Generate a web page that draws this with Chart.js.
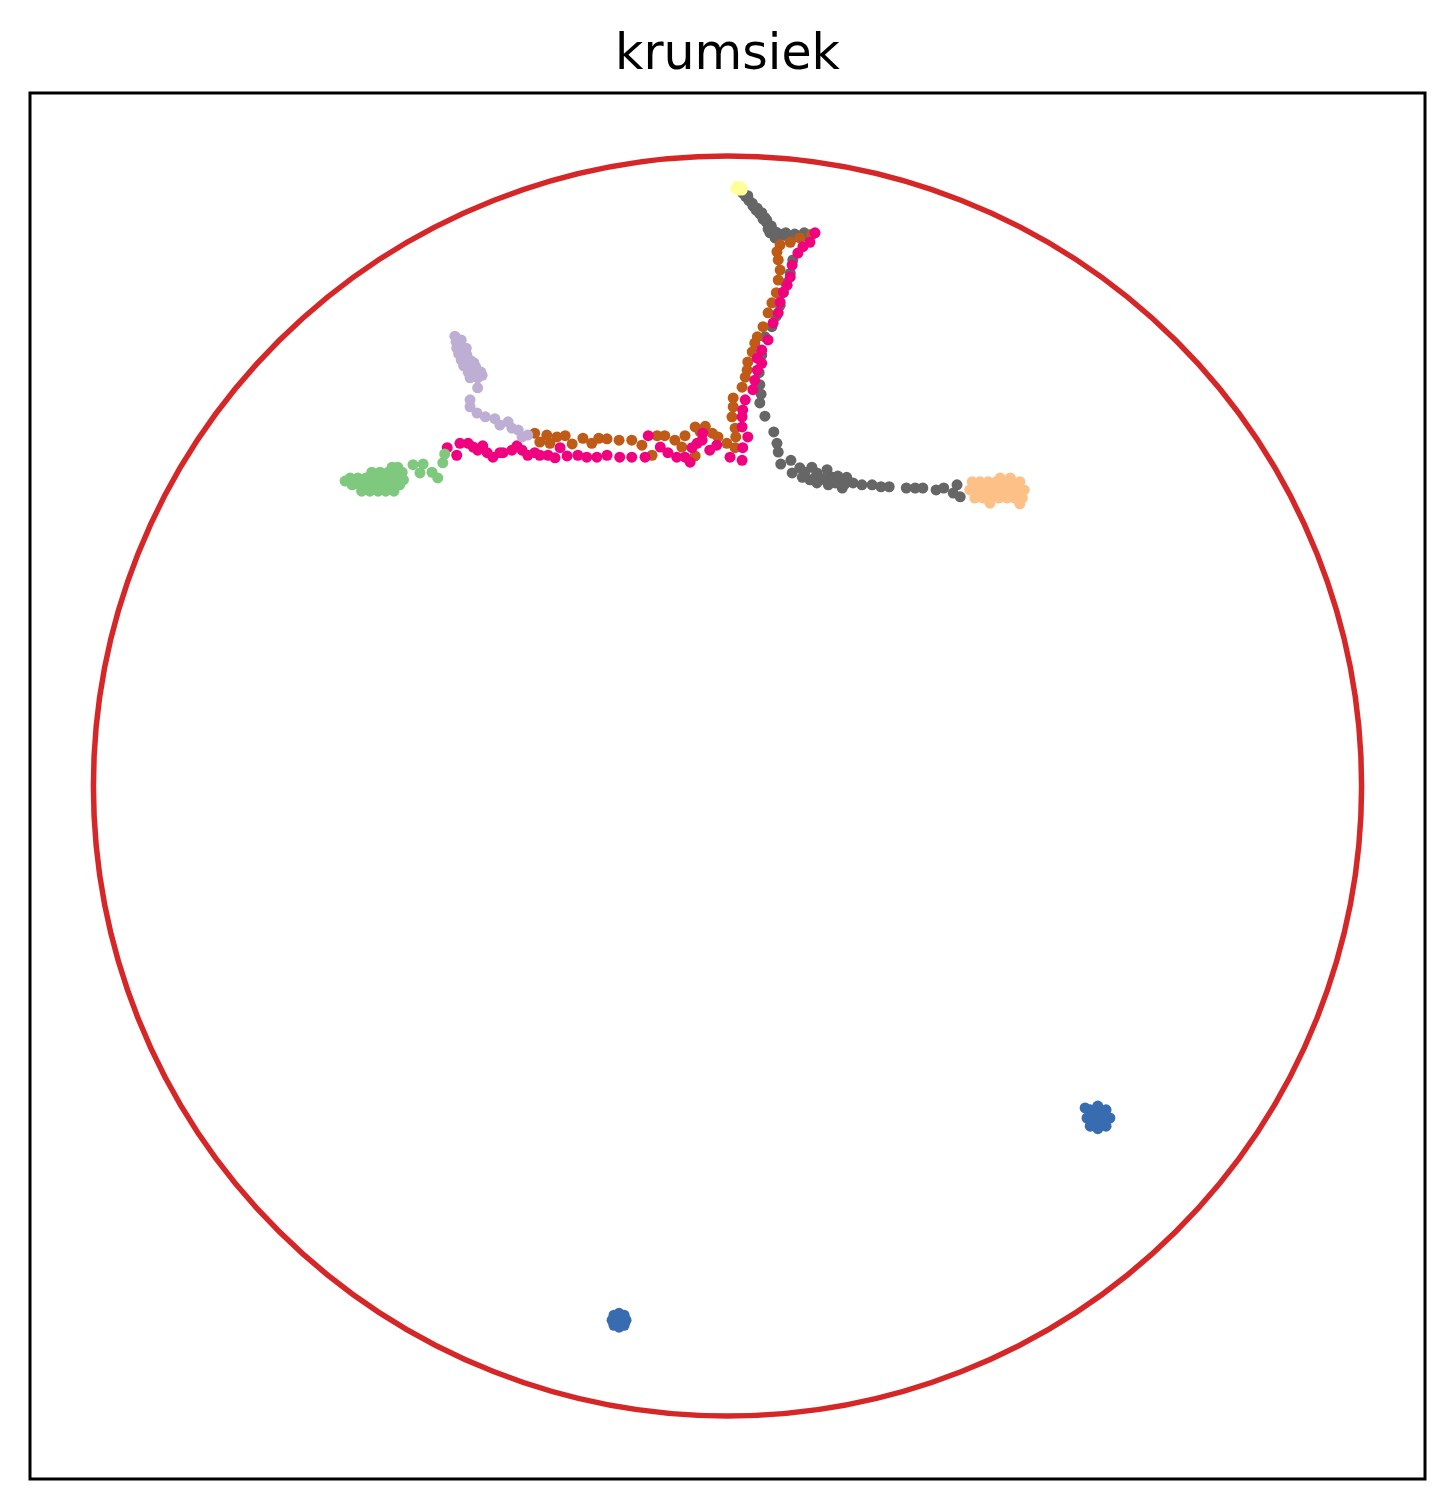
<!DOCTYPE html>
<html>
<head>
<meta charset="utf-8">
<script src="https://cdn.jsdelivr.net/npm/chart.js@4"></script>
<style>
  body { margin: 0; background: #fff; }
  canvas { display: block; }
</style>
</head>
<body>
<canvas id="diskChart" width="1455" height="1509"></canvas>
<script>
// poincare disk embedding, one array per cluster label
const titleText = "krumsiek";
const axisMin = -1.1;
const axisMax = 1.1;
const diskRadius = 1;

const grayPts = [
    [0.024,0.941],[0.029,0.935],[0.034,0.929],[0.040,0.921],[0.045,0.914],[0.051,0.908],[0.056,0.900],[0.061,0.895],
    [0.065,0.889],[0.070,0.883],[0.073,0.876],[0.080,0.873],[0.088,0.876],[0.094,0.873],[0.102,0.871],[0.110,0.873],
    [0.118,0.873],[0.124,0.875],[0.130,0.875],[0.067,0.878],[0.075,0.870],[0.081,0.870],[0.059,0.902],[0.050,0.911],
    [0.064,0.884],
    [0.032,0.937],[0.039,0.925],[0.047,0.917],[0.054,0.910],[0.062,0.898],[0.069,0.889],[0.077,0.879],[0.092,0.878],
    [0.106,0.876],[0.121,0.878],
    [0.103,0.835],[0.099,0.814],[0.092,0.798],[0.088,0.783],[0.083,0.763],[0.077,0.746],[0.070,0.729],[0.059,0.713],
    [0.054,0.684],[0.050,0.656],[0.051,0.637],[0.053,0.622],[0.051,0.608],[0.059,0.587],[0.073,0.562],[0.078,0.544],
    [0.080,0.530],[0.084,0.511],
    [0.100,0.517],[0.114,0.505],[0.102,0.497],[0.118,0.490],[0.133,0.506],[0.130,0.486],[0.141,0.497],[0.141,0.481],
    [0.157,0.502],[0.159,0.478],[0.166,0.490],[0.177,0.486],[0.181,0.473],[0.188,0.490],[0.198,0.481],[0.212,0.478],
    [0.228,0.478],[0.242,0.475],[0.255,0.475],[0.282,0.473],[0.296,0.473],[0.308,0.473],[0.329,0.470],[0.341,0.473],
    [0.362,0.478],[0.367,0.459],[0.356,0.465],[0.146,0.489],[0.154,0.486],[0.170,0.481],[0.138,0.489],[0.122,0.498],
    [0.174,0.492],[0.185,0.479],[0.162,0.486]
];
const brownPts = [
    [0.133,0.875],[0.114,0.870],[0.099,0.863],[0.083,0.859],[0.078,0.848],[0.080,0.835],[0.083,0.819],[0.080,0.803],
    [0.077,0.783],[0.070,0.767],[0.064,0.751],[0.056,0.729],[0.047,0.713],[0.043,0.703],[0.039,0.689],[0.032,0.673],
    [0.031,0.660],[0.028,0.649],[0.023,0.633],[0.009,0.616],[0.009,0.602],[0.007,0.586],[0.012,0.568],[0.013,0.554],
    [-0.001,0.544],[0.012,0.537],
    [-0.304,0.560],[-0.296,0.546],[-0.285,0.557],[-0.280,0.544],[-0.269,0.554],[-0.256,0.556],[-0.245,0.543],[-0.228,0.552],
    [-0.214,0.544],[-0.203,0.552],[-0.190,0.551],[-0.171,0.549],[-0.151,0.549],[-0.135,0.541],[-0.111,0.556],[-0.099,0.556],
    [-0.083,0.549],[-0.072,0.538],[-0.067,0.556],[-0.051,0.570],[-0.035,0.571],[-0.043,0.562],[-0.024,0.560],[-0.015,0.554],
    [-0.119,0.525],[-0.051,0.524]
];
const pinkPts = [
    [0.138,0.878],[0.130,0.863],[0.119,0.856],[0.111,0.846],[0.102,0.827],[0.099,0.808],[0.094,0.795],[0.088,0.784],
    [0.083,0.768],[0.080,0.751],[0.072,0.735],[0.064,0.708],[0.054,0.692],[0.047,0.679],[0.054,0.671],[0.047,0.660],
    [0.043,0.644],[0.040,0.629],[0.028,0.613],[0.024,0.597],[0.023,0.586],[0.023,0.570],[0.032,0.554],[0.024,0.537],
    [0.004,0.522],[0.023,0.517],
    [-0.442,0.537],[-0.427,0.525],[-0.422,0.544],[-0.409,0.544],[-0.401,0.538],[-0.394,0.533],[-0.386,0.540],[-0.379,0.529],
    [-0.370,0.522],[-0.359,0.529],[-0.354,0.529],[-0.340,0.533],[-0.332,0.540],[-0.324,0.533],[-0.315,0.525],[-0.304,0.529],
    [-0.296,0.525],[-0.283,0.525],[-0.272,0.521],[-0.264,0.537],[-0.253,0.524],[-0.236,0.525],[-0.222,0.522],[-0.206,0.522],
    [-0.190,0.525],[-0.170,0.522],[-0.151,0.522],[-0.130,0.522],[-0.125,0.556],[-0.106,0.538],[-0.094,0.529],[-0.080,0.522],
    [-0.067,0.522],[-0.059,0.514],[-0.056,0.537],[-0.048,0.544],[-0.040,0.549],[-0.039,0.560],[-0.028,0.533],[-0.017,0.541]
];
const greenPts = [
    [-0.603,0.484],
    [-0.595,0.489],[-0.583,0.489],[-0.570,0.489],[-0.558,0.489],[-0.545,0.489],[-0.532,0.489],[-0.520,0.489],
    [-0.592,0.478],[-0.580,0.478],[-0.567,0.478],[-0.554,0.478],[-0.542,0.478],[-0.529,0.478],[-0.517,0.478],
    [-0.577,0.468],[-0.564,0.468],[-0.551,0.468],[-0.539,0.468],[-0.526,0.468],
    [-0.561,0.498],[-0.548,0.498],[-0.535,0.498],[-0.523,0.498],[-0.513,0.498],
    [-0.529,0.506],[-0.520,0.506],
    [-0.586,0.483],[-0.561,0.484],[-0.536,0.484],[-0.511,0.486],
    [-0.496,0.510],[-0.480,0.511],[-0.485,0.497],[-0.466,0.498],[-0.457,0.489],[-0.449,0.513],[-0.446,0.527]
];
const purplePts = [
    [-0.430,0.714],[-0.428,0.705],[-0.427,0.695],[-0.424,0.686],[-0.420,0.676],[-0.416,0.667],[-0.409,0.657],
    [-0.420,0.708],[-0.419,0.698],[-0.416,0.689],[-0.412,0.679],[-0.408,0.670],[-0.401,0.660],[-0.394,0.654],
    [-0.411,0.684],[-0.405,0.675],[-0.397,0.665],[-0.389,0.657],[-0.406,0.648],[-0.398,0.651],
    [-0.387,0.652],[-0.394,0.648],[-0.400,0.672],[-0.412,0.695],
    [-0.394,0.632],[-0.406,0.613],[-0.406,0.602],[-0.395,0.592],[-0.382,0.586],[-0.367,0.583],[-0.359,0.573],[-0.346,0.578],
    [-0.340,0.568],[-0.330,0.565],[-0.324,0.554],[-0.315,0.557]
];
const orangePts = [
    [0.386,0.483],[0.398,0.483],[0.411,0.483],[0.424,0.483],[0.436,0.483],[0.449,0.483],[0.461,0.483],
    [0.382,0.470],[0.395,0.470],[0.408,0.470],[0.420,0.470],[0.433,0.470],[0.446,0.470],[0.458,0.470],[0.468,0.470],
    [0.390,0.457],[0.403,0.457],[0.416,0.457],[0.428,0.457],[0.441,0.457],[0.453,0.457],[0.465,0.457],
    [0.461,0.448],[0.430,0.489],[0.446,0.489],[0.414,0.449],
    [0.392,0.476],[0.418,0.465],[0.452,0.477],[0.436,0.462]
];
const yellowPts = [
    [0.015,0.952],[0.021,0.951],[0.018,0.946],[0.023,0.946],[0.013,0.948]
];
const bluePts = [
    [0.572,-0.514],[0.584,-0.508],[0.597,-0.514],[0.603,-0.527],[0.597,-0.540],[0.584,-0.544],[0.572,-0.540],[0.567,-0.527],
    [0.564,-0.511],
    [0.584,-0.527],[0.592,-0.527],[0.576,-0.527],[0.584,-0.519],[0.584,-0.535],[0.590,-0.521],[0.578,-0.533],
    [0.590,-0.533],[0.578,-0.521],
    [-0.171,-0.837],[-0.160,-0.848],[-0.171,-0.859],[-0.182,-0.848],[-0.163,-0.840],[-0.179,-0.840],[-0.163,-0.856],
    [-0.179,-0.856],[-0.171,-0.848],[-0.166,-0.844],[-0.176,-0.852]
];

const toXY = pts => pts.map(p => ({ x: p[0], y: p[1] }));

function cluster(pts, color, order) {
    return {
        data: toXY(pts),
        backgroundColor: color,
        borderWidth: 0,
        pointRadius: 5.5,
        pointHoverRadius: 5.5,
        order: order
    };
}

// unit circle of the disk and the axes frame
const diskPlugin = {
    id: "disk",
    beforeDatasetsDraw(chart) {
        const { ctx, scales } = chart;
        const cx = scales.x.getPixelForValue(0);
        const cy = scales.y.getPixelForValue(0);
        const rx = scales.x.getPixelForValue(diskRadius) - cx;
        const ry = cy - scales.y.getPixelForValue(diskRadius);
        ctx.save();
        ctx.strokeStyle = "#d62728";
        ctx.lineWidth = 5.5;
        ctx.beginPath();
        ctx.ellipse(cx, cy, rx, ry, 0, 0, Math.PI * 2);
        ctx.stroke();
        ctx.restore();
    },
    afterDraw(chart) {
        const { ctx, chartArea } = chart;
        ctx.save();
        ctx.strokeStyle = "#000";
        ctx.lineWidth = 3;
        ctx.strokeRect(chartArea.left, chartArea.top,
            chartArea.right - chartArea.left, chartArea.bottom - chartArea.top);
        ctx.restore();
    }
};

new Chart(document.getElementById("diskChart"), {
    type: "scatter",
    data: {
        datasets: [
            cluster(grayPts, "#666666", 8),
            cluster(brownPts, "#bf5b17", 7),
            cluster(pinkPts, "#f0027f", 6),
            cluster(greenPts, "#7fc97f", 5),
            cluster(purplePts, "#beaed4", 4),
            cluster(orangePts, "#fdc086", 3),
            cluster(yellowPts, "#ffff99", 2),
            cluster(bluePts, "#386cb0", 1)
        ]
    },
    options: {
        responsive: false,
        animation: false,
        layout: { padding: { left: 30, right: 30, top: 0, bottom: 30 } },
        scales: {
            x: { type: "linear", min: axisMin, max: axisMax, display: false },
            y: { type: "linear", min: axisMin, max: axisMax, display: false }
        },
        plugins: {
            legend: { display: false },
            tooltip: { enabled: false },
            title: {
                display: true,
                text: titleText,
                color: "#000",
                font: { family: "DejaVu Sans", size: 49, weight: "normal" },
                padding: { top: 27, bottom: 7.2 }
            }
        }
    },
    plugins: [diskPlugin]
});
</script>
</body>
</html>
